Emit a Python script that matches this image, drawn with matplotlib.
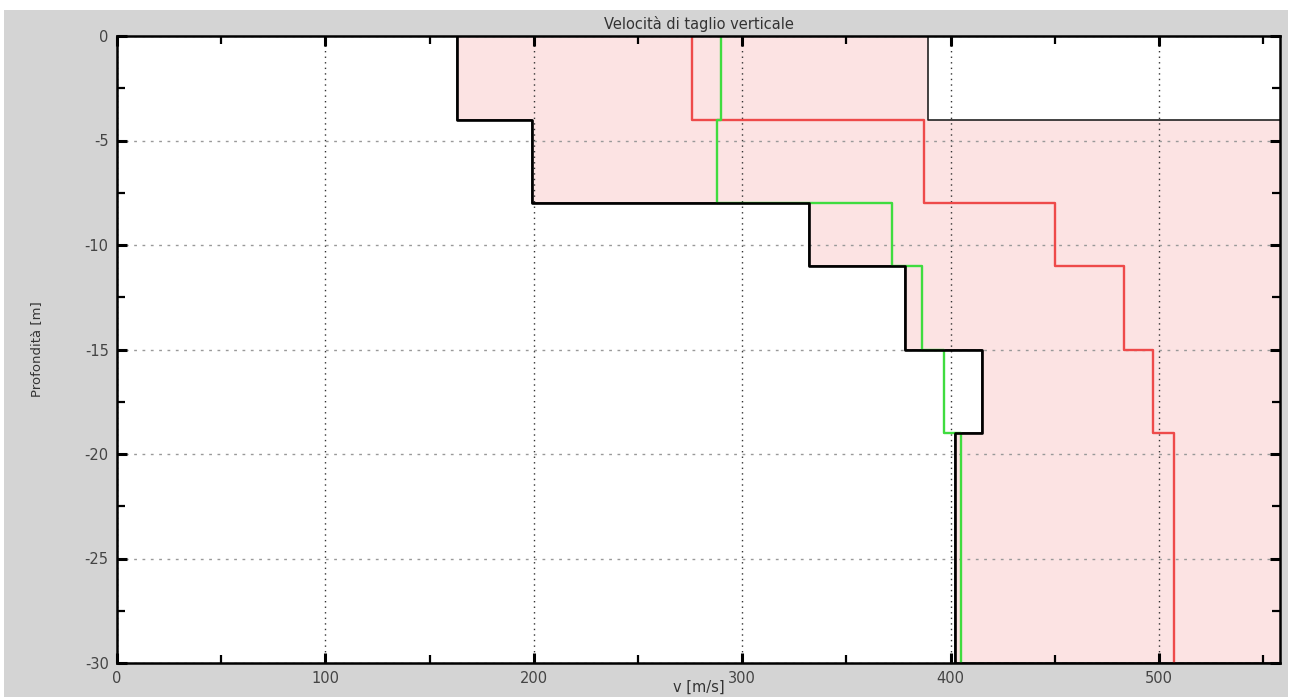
import matplotlib.pyplot as plt
from matplotlib.patches import Rectangle
from matplotlib.ticker import MultipleLocator
import numpy as np

plt.rcParams["axes.unicode_minus"] = False

# layer boundaries [m]
layer_top = [0, -4, -8, -11, -15, -19]
layer_bottom = [-4, -8, -11, -15, -19, -30]

# shear wave velocities per layer [m/s]
vs_black = [163, 199, 332, 378, 415, 402]
vs_green = [290, 288, 372, 386, 397, 405]
vs_red = [276, 387, 450, 483, 497, 507]
vs_band_max = [389, 650, 650, 650, 650, 650]


def step_profile(values):
    # vertical step line through each layer
    x = np.repeat(values, 2)
    y = np.ravel(np.column_stack([layer_top, layer_bottom]))
    return x, y


fig = plt.figure(figsize=(13, 6.97), dpi=100, facecolor="white")
fig.patches.append(Rectangle((4 / 1300, 0), 1284 / 1300, 687 / 697,
                             transform=fig.transFigure, facecolor="#d4d4d4",
                             edgecolor="none", zorder=-10))

ax = fig.add_axes([117 / 1300, 1 - 663 / 697, 1163 / 1300, 627 / 697])
ax.set_facecolor("white")

xb, yb = step_profile(vs_black)
xg, yg = step_profile(vs_green)
xr, yr = step_profile(vs_red)
xu, yu = step_profile(vs_band_max)

ax.fill_betweenx(yb, xb, xu, facecolor="#fce3e3", edgecolor="#222222",
                 linewidth=1.2, zorder=1)

ax.plot(xr, yr, color="#ee4a4a", linewidth=1.7, zorder=3)
ax.plot(xg, yg, color="#3fdc3f", linewidth=1.7, zorder=4)
ax.plot(xb, yb, color="black", linewidth=1.9, zorder=5)

ax.set_xlim(0, 558)
ax.set_ylim(-30, 0)

ax.xaxis.set_major_locator(MultipleLocator(100))
ax.xaxis.set_minor_locator(MultipleLocator(50))
ax.yaxis.set_major_locator(MultipleLocator(5))
ax.yaxis.set_minor_locator(MultipleLocator(2.5))

ax.tick_params(which="both", direction="in", top=True, right=True,
               colors="black", labelcolor="#444444", labelsize=10.5)
ax.tick_params(which="major", length=7, width=2.2, pad=6)
ax.tick_params(which="minor", length=6, width=1.6)

ax.grid(True, axis="x", which="major", color="#333333",
        linestyle=(0, (1, 3)), linewidth=1.0, zorder=2)
ax.grid(True, axis="y", which="major", color="#999999",
        linestyle=(0, (2, 4)), linewidth=1.0, zorder=2)
ax.set_axisbelow(False)

for spine in ax.spines.values():
    spine.set_linewidth(1.8)
    spine.set_zorder(6)

ax.set_title("Velocità di taglio verticale", fontsize=10.5, color="#333333", pad=5)
ax.set_ylabel("Profondità [m]", fontsize=9.5, color="#333333", labelpad=30)
ax.set_xlabel("v [m/s]", fontsize=10.5, color="#333333", labelpad=-5)

fig.savefig("out.png", dpi=100, facecolor=fig.get_facecolor())
plt.close(fig)
